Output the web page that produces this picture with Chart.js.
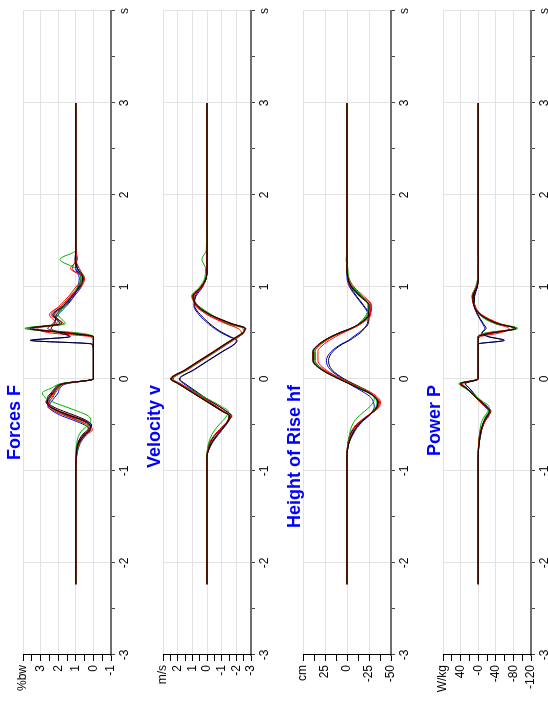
<!DOCTYPE html>
<html lang="en">
<head>
<meta charset="UTF-8">
<title>Jump analysis</title>
<script src="https://cdn.jsdelivr.net/npm/chart.js"></script>
<style>
  html, body { margin: 0; padding: 0; overflow: hidden; background: #fff; }
  /* the chart is drawn landscape and turned a quarter left */
  #turn { position: absolute; left: 0; top: 705px; width: 705px; height: 548px;
          transform-origin: 0 0; transform: rotate(-90deg); }
  #turn canvas { position: absolute; left: 0; }
</style>
</head>
<body>
<div id="turn">
  <canvas id="cForce" width="705" height="140" style="top:0px"></canvas>
  <canvas id="cVel" width="705" height="140" style="top:140px"></canvas>
  <canvas id="cHeight" width="705" height="140" style="top:280px"></canvas>
  <canvas id="cPower" width="705" height="140" style="top:420px"></canvas>
</div>

<script>
// sample times (s), shared by every trial
const time = [-2.23, -1.0, -0.85, -0.7, -0.6, -0.55, -0.5, -0.45, -0.4, -0.35, -0.3, -0.25, -0.2, -0.15, -0.1, -0.05, 0,
              0.1, 0.2, 0.3, 0.38, 0.42, 0.46, 0.5, 0.55, 0.6, 0.7, 0.8, 0.9, 1.0, 1.1, 1.2, 1.3, 1.4, 2.0, 3.0];

const trialColors = ['#000000', '#ff0000', '#00b000', '#0000ff', '#8b0000', '#000000', '#ff0000', '#00b000', '#0000ff'];

// Forces F (%bw)
const force1 = [1, 1, 0.98, 0.85, 0.45, 0.15, 0.2, 0.6, 1.3, 2.0, 2.5, 2.65, 2.5, 2.3, 2.1, 1.7, 0, 0, 0, 0, 0, 0, 0, 1.5, 3.6, 1.9, 2.3, 1.7, 1.2, 0.8, 0.6, 0.9, 1.05, 1, 1, 1];
const force2 = [1, 1, 0.97, 0.8, 0.35, 0.05, 0.3, 0.9, 1.6, 2.2, 2.6, 2.55, 2.35, 2.2, 2.0, 1.6, 0, 0, 0, 0, 0, 0, 0, 1.2, 3.4, 2.1, 2.5, 1.8, 1.3, 0.7, 0.5, 1.3, 0.9, 1, 1, 1];
const force3 = [1, 1, 1.0, 0.95, 0.8, 0.6, 0.3, 0.15, 0.3, 0.9, 1.6, 2.3, 2.75, 2.9, 2.4, 1.8, 0, 0, 0, 0, 0, 0, 0, 0.8, 3.8, 1.6, 2.0, 1.6, 1.3, 0.9, 0.7, 1.0, 1.9, 1, 1, 1];
const force4 = [1, 1, 0.96, 0.75, 0.4, 0.2, 0.5, 1.1, 1.8, 2.3, 2.55, 2.4, 2.2, 2.0, 1.9, 1.5, 0, 0, 0, 0, 0.1, 3.5, 1.4, 1.7, 2.6, 2.3, 2.0, 1.5, 1.1, 0.9, 0.8, 1.0, 1.0, 1, 1, 1];
const force5 = [1, 1, 0.97, 0.82, 0.5, 0.25, 0.25, 0.7, 1.4, 2.0, 2.45, 2.7, 2.55, 2.35, 2.15, 1.75, 0, 0, 0, 0, 0, 0, 0, 1.6, 3.7, 1.8, 2.2, 1.6, 1.2, 0.75, 0.55, 0.8, 1.0, 1, 1, 1];
const force6 = [1, 1, 0.99, 0.88, 0.6, 0.3, 0.1, 0.4, 1.0, 1.7, 2.3, 2.6, 2.6, 2.4, 2.2, 1.8, 0, 0, 0, 0, 0.05, 3.6, 1.3, 1.9, 2.4, 2.2, 2.1, 1.6, 1.2, 0.85, 0.7, 0.9, 1.0, 1, 1, 1];
const force7 = [1, 1, 0.98, 0.9, 0.55, 0.2, 0.1, 0.5, 1.2, 1.9, 2.4, 2.6, 2.45, 2.25, 2.05, 1.65, 0, 0, 0, 0, 0, 0, 0.2, 2.4, 3.2, 1.7, 2.4, 1.9, 1.4, 1.0, 0.6, 1.2, 1.0, 1, 1, 1];
const force8 = [1, 1, 0.96, 0.78, 0.45, 0.3, 0.45, 0.9, 1.5, 2.1, 2.5, 2.5, 2.3, 2.15, 1.95, 1.6, 0, 0, 0, 0, 0, 0, 0, 1.4, 3.9, 2.0, 2.2, 1.7, 1.3, 0.8, 0.5, 0.9, 1.0, 1, 1, 1];
const force9 = [1, 1, 0.98, 0.86, 0.5, 0.2, 0.15, 0.55, 1.25, 1.95, 2.45, 2.6, 2.45, 2.25, 2.05, 1.65, 0, 0, 0, 0, 0, 0, 0, 1.3, 3.5, 1.8, 2.3, 1.6, 1.1, 0.7, 0.6, 1.0, 1.0, 1, 1, 1];

// Velocity v (m/s)
const vel1 = [0, 0, 0, -0.3, -0.75, -1.0, -1.25, -1.45, -1.55, -1.05, -0.55, -0.05, 0.45, 0.95, 1.45, 1.95, 2.45, 1.47, 0.5, -0.49, -1.25, -1.65, -2.05, -2.45, -2.6, -1.7, -0.2, 0.7, 0.95, 0.4, 0.05, 0, 0, 0, 0, 0];
const vel2 = [0, 0, 0, -0.25, -0.7, -0.95, -1.2, -1.45, -1.6, -1.15, -0.65, -0.15, 0.35, 0.85, 1.35, 1.85, 2.4, 1.42, 0.45, -0.54, -1.3, -1.7, -2.1, -2.5, -2.55, -1.5, -0.1, 0.8, 0.9, 0.35, 0.05, 0.02, 0, 0, 0, 0];
const vel3 = [0, 0, 0, -0.1, -0.35, -0.55, -0.8, -1.1, -1.35, -1.45, -1.0, -0.45, 0.15, 0.75, 1.3, 1.9, 2.35, 1.37, 0.4, -0.6, -1.35, -1.75, -2.15, -2.5, -2.45, -1.4, -0.3, 0.6, 1.05, 0.5, 0.15, 0.1, 0.35, 0.05, 0, 0];
const vel4 = [0, 0, 0, -0.35, -0.8, -1.05, -1.3, -1.5, -1.55, -1.1, -0.65, -0.2, 0.25, 0.7, 1.15, 1.6, 1.9, 0.92, -0.05, -1.04, -1.85, -2.0, -1.5, -1.0, -0.5, -0.1, 0.55, 0.9, 0.75, 0.3, 0.05, 0, 0, 0, 0, 0];
const vel5 = [0, 0, 0, -0.28, -0.72, -0.98, -1.22, -1.42, -1.5, -1.02, -0.52, -0.02, 0.48, 0.98, 1.48, 1.98, 2.5, 1.52, 0.55, -0.44, -1.2, -1.6, -2.0, -2.4, -2.65, -1.75, -0.25, 0.65, 0.9, 0.35, 0.05, 0, 0, 0, 0, 0];
const vel6 = [0, 0, 0, -0.2, -0.6, -0.9, -1.2, -1.5, -1.65, -1.3, -0.85, -0.35, 0.15, 0.6, 1.05, 1.5, 1.85, 0.87, -0.1, -1.09, -1.9, -2.05, -1.6, -1.1, -0.6, -0.2, 0.45, 0.85, 0.8, 0.35, 0.05, 0, 0, 0, 0, 0];
const vel7 = [0, 0, 0, -0.15, -0.55, -0.85, -1.15, -1.45, -1.7, -1.35, -0.85, -0.3, 0.25, 0.8, 1.3, 1.8, 2.3, 1.32, 0.35, -0.64, -1.4, -1.8, -2.2, -2.35, -2.1, -1.3, 0.0, 0.75, 1.0, 0.45, 0.1, 0, 0, 0, 0, 0];
const vel8 = [0, 0, 0, -0.32, -0.78, -1.02, -1.25, -1.45, -1.5, -1.0, -0.5, 0.0, 0.5, 1.0, 1.5, 2.0, 2.45, 1.47, 0.5, -0.49, -1.25, -1.65, -2.05, -2.45, -2.6, -1.6, -0.15, 0.7, 0.95, 0.4, 0.05, 0, 0, 0, 0, 0];
const vel9 = [0, 0, 0, -0.3, -0.74, -1.0, -1.24, -1.44, -1.52, -1.04, -0.54, -0.04, 0.46, 0.96, 1.46, 1.96, 2.42, 1.44, 0.47, -0.52, -1.28, -1.68, -2.08, -2.48, -2.58, -1.65, -0.2, 0.7, 0.9, 0.38, 0.05, 0, 0, 0, 0, 0];

// Height of Rise hf (cm)
const rise1 = [0, 0, 0, -2, -6, -9, -13, -18, -24, -30, -34, -35, -32, -25, -13, -2, 9, 28.6, 38.4, 38.4, 31.3, 25.5, 18, 9, -4.5, -14, -25, -25, -15, -5, -1, 0, 0, 0, 0, 0];
const rise2 = [0, 0, 0, -1.5, -5, -8, -12, -17, -24, -31, -36, -37, -33, -26, -15, -4, 7, 26, 36, 36, 29, 23, 16, 7, -6, -16, -27, -26, -14, -4, -1, 0, 0, 0, 0, 0];
const rise3 = [0, 0, 0, -1, -3, -4, -6, -9, -14, -20, -26, -30, -31, -26, -17, -5, 8, 27, 37, 37, 30, 24, 17, 8, -5, -13, -22, -24, -17, -7, -2, -1, 1, 0, 0, 0];
const rise4 = [0, 0, 0, -2, -7, -10, -14, -19, -25, -29, -31, -30, -27, -20, -11, -2, 5, 19, 23.4, 17.9, 6.4, -1.6, -7, -13, -19, -23, -24, -18, -10, -3, 0, 0, 0, 0, 0, 0];
const rise5 = [0, 0, 0, -2, -6, -9, -13, -18, -24.5, -30.5, -35, -36, -33, -25, -14, -3, 9, 29, 39, 39, 32, 26, 18.5, 9.5, -4, -14, -26, -27, -17, -6, -1, 0, 0, 0, 0, 0];
const rise6 = [0, 0, 0, -1, -4, -7, -11, -17, -24, -31, -35, -35, -32, -26, -17, -7, 3, 17, 21, 16, 5, -3, -9, -15, -20, -24, -25, -19, -11, -4, -1, 0, 0, 0, 0, 0];
const rise7 = [0, 0, 0, -1, -3.5, -6, -10, -16, -23, -31, -37, -38, -35, -28, -18, -6, 6, 24, 33, 33, 26, 20, 13, 5, -6, -15, -26, -28, -19, -8, -2, 0, 0, 0, 0, 0];
const rise8 = [0, 0, 0, -2, -6.5, -9.5, -13.5, -18, -24, -29, -33, -34, -31, -24, -13, -2, 9, 28.6, 38.4, 38.4, 31.3, 25.5, 18, 9, -4.5, -13, -23, -24, -15, -5, -1, 0, 0, 0, 0, 0];
const rise9 = [0, 0, 0, -2, -6, -9, -13, -18, -24, -30, -34, -35, -32, -25, -13, -2, 8.5, 28, 38, 38, 31, 25, 17.5, 8.5, -5, -14, -24, -25, -16, -6, -1, 0, 0, 0, 0, 0];

// Power P (W/kg)
const power1 = [0, 0, 0, -2, -5, -7, -10, -14, -20, -26, -18, -6, 5, 16, 27, 40, 0, 0, 0, 0, 0, 0, 0, -30, -85, -45, -5, 10, 12, 3, 0, 0, 0, 0, 0, 0];
const power2 = [0, 0, 0, -1, -4, -6, -11, -17, -24, -28, -16, -4, 6, 15, 25, 37, 0, 0, 0, 0, 0, 0, 0, -22, -80, -50, -8, 8, 13, 4, 0, 0, 0, 0, 0, 0];
const power3 = [0, 0, 0, -1, -3, -4, -6, -9, -15, -22, -25, -12, 2, 14, 30, 44, 0, 0, 0, 0, 0, 0, 0, -15, -88, -40, -3, 7, 14, 6, 1, 0, 2, 0, 0, 0];
const power4 = [0, 0, 0, -2, -6, -8, -12, -16, -24, -24, -15, -5, 4, 12, 20, 30, 0, 0, 0, 0, 0, -60, -25, -9, -15, -10, 2, 9, 8, 2, 0, 0, 0, 0, 0, 0];
const power5 = [0, 0, 0, -2, -5, -8, -11, -15, -21, -27, -19, -7, 4, 16, 28, 41, 0, 0, 0, 0, 0, 0, 0, -35, -86, -48, -6, 9, 11, 3, 0, 0, 0, 0, 0, 0];
const power6 = [0, 0, 0, -1, -4, -7, -11, -16, -23, -28, -20, -8, 2, 11, 20, 29, 0, 0, 0, 0, 0, -58, -22, -8, -18, -12, 1, 8, 9, 2, 0, 0, 0, 0, 0, 0];
const power7 = [0, 0, 0, -1, -3, -6, -10, -15, -22, -29, -21, -9, 3, 14, 25, 36, 0, 0, 0, 0, 0, 0, -5, -48, -70, -40, -2, 10, 14, 5, 0, 0, 0, 0, 0, 0];
const power8 = [0, 0, 0, -2, -6, -8, -10, -13, -18, -24, -17, -5, 6, 17, 28, 42, 0, 0, 0, 0, 0, 0, 0, -28, -90, -50, -4, 9, 12, 3, 0, 0, 0, 0, 0, 0];
const power9 = [0, 0, 0, -2, -5, -7, -10, -14, -20, -25, -17, -5, 5, 16, 27, 39, 0, 0, 0, 0, 0, 0, 0, -26, -82, -46, -5, 10, 12, 3, 0, 0, 0, 0, 0, 0];

Chart.defaults.font.family = 'Arial, "Liberation Sans", sans-serif';
Chart.defaults.font.size = 12;
Chart.defaults.color = '#000';

const panelTitle = {
  id: 'panelTitle',
  afterDraw(chart, args, opts) {
    const ctx = chart.ctx;
    ctx.save();
    ctx.font = 'bold 18px Arial, "Liberation Sans", sans-serif';
    ctx.fillStyle = '#0000ff';
    ctx.textAlign = 'right';
    ctx.textBaseline = 'alphabetic';
    ctx.fillText(opts.text, 320, 20);
    ctx.restore();
  }
};

function makePanel(id, title, unit, yMin, yMax, yStep, major, zeroLabel, series) {
  const datasets = series.map((vals, i) => ({
    data: vals.map((v, k) => ({ x: time[k], y: v })),
    borderColor: trialColors[i],
    borderWidth: 1,
    pointRadius: 0,
    fill: false,
    cubicInterpolationMode: 'monotone'
  }));
  // draw the two blue trials last, like the original
  const order = [0, 1, 2, 4, 5, 6, 7, 3, 8];

  new Chart(document.getElementById(id), {
    type: 'line',
    data: { datasets: order.map(i => datasets[i]) },
    plugins: [panelTitle],
    options: {
      responsive: false,
      animation: false,
      events: [],
      layout: { padding: { top: 23, right: 11, left: 0, bottom: 0 } },
      plugins: { legend: { display: false }, tooltip: { enabled: false }, panelTitle: { text: title } },
      scales: {
        x: {
          type: 'linear', min: -3, max: 4,
          afterFit(scale) { scale.height = 29; },
          border: { color: '#6e6e6e', width: 2 },
          grid: {
            color: c => Number.isInteger(c.tick.value) ? '#e2e2e2' : 'rgba(0,0,0,0)',
            tickColor: '#444', tickLength: 4
          },
          ticks: {
            stepSize: 0.5, autoSkip: false, maxRotation: 0, padding: 2, maxTicksLimit: 100,
            callback: v => v === 4 ? 's' : (Number.isInteger(v) ? String(v) : '')
          }
        },
        y: {
          min: yMin, max: yMax,
          afterFit(scale) { scale.width = 50; },
          border: { color: '#000', width: 1 },
          grid: {
            color: c => (c.tick.value % major === 0) ? '#e2e2e2' : 'rgba(0,0,0,0)',
            tickColor: '#000', tickLength: 6
          },
          ticks: {
            stepSize: yStep, autoSkip: false, padding: 4, maxTicksLimit: 100,
            callback: v => {
              if (v === yMax) return unit;
              if (v % major !== 0) return '';
              return v === 0 ? zeroLabel : String(v);
            }
          }
        }
      }
    }
  });
}

makePanel('cForce', 'Forces F', '%bw', -1, 4, 0.5, 1, '0',
  [force1, force2, force3, force4, force5, force6, force7, force8, force9]);
makePanel('cVel', 'Velocity v', 'm/s', -3, 3, 0.5, 1, '0',
  [vel1, vel2, vel3, vel4, vel5, vel6, vel7, vel8, vel9]);
makePanel('cHeight', 'Height of Rise hf', 'cm', -50, 50, 12.5, 25, '0',
  [rise1, rise2, rise3, rise4, rise5, rise6, rise7, rise8, rise9]);
makePanel('cPower', 'Power P', 'W/kg', -120, 80, 20, 40, '-0',
  [power1, power2, power3, power4, power5, power6, power7, power8, power9]);
</script>
</body>
</html>
